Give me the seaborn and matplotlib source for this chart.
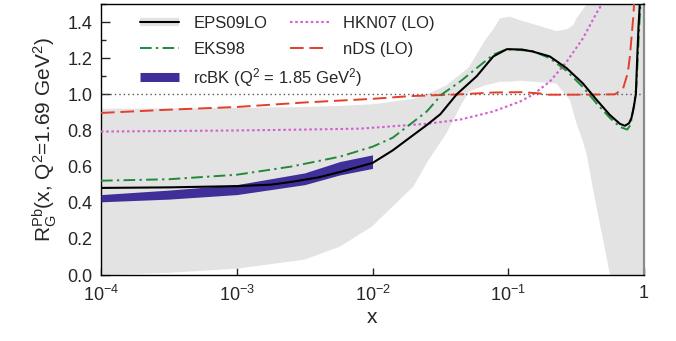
import matplotlib
matplotlib.use("Agg")
import matplotlib.pyplot as plt
import seaborn as sns
from matplotlib.lines import Line2D
from matplotlib.patches import Patch

# ---------------- data ----------------
eps09_x = [1e-4, 3.16e-4, 1e-3, 1.78e-3, 2.51e-3, 3.98e-3, 5.75e-3, 0.01, 0.0141, 0.0188, 0.0251,
           0.0316, 0.0417, 0.0585, 0.0776, 0.0977, 0.126, 0.151, 0.202, 0.269, 0.355,
           0.447, 0.560, 0.664, 0.723, 0.776, 0.809, 0.841, 0.871, 0.891, 0.912, 0.931, 0.955]
eps09_y = [0.482, 0.485, 0.492, 0.50, 0.515, 0.54, 0.57, 0.62, 0.69, 0.76, 0.83,
           0.89, 1.0, 1.10, 1.21, 1.25, 1.248, 1.237, 1.21, 1.145, 1.06,
           0.97, 0.886, 0.837, 0.826, 0.84, 0.87, 0.93, 1.0, 1.2, 1.38, 1.5, 1.8]

eks98_x = [1e-4, 3.16e-4, 1e-3, 2.51e-3, 5.75e-3, 0.01, 0.0141, 0.0251, 0.0324, 0.0441,
           0.0585, 0.0776, 0.0977, 0.151, 0.202, 0.269, 0.355, 0.447, 0.560, 0.664,
           0.752, 0.794, 0.841, 0.88, 0.912, 0.942, 0.97]
eks98_y = [0.522, 0.53, 0.555, 0.60, 0.655, 0.71, 0.76, 0.905, 1.0, 1.07,
           1.145, 1.22, 1.25, 1.24, 1.20, 1.13, 1.04, 0.95, 0.87, 0.82,
           0.805, 0.83, 0.93, 1.05, 1.3, 1.5, 1.8]

hkn07_x = [1e-4, 1e-3, 3.16e-3, 8.1e-3, 0.0251, 0.0441, 0.0776, 0.122, 0.151, 0.202,
           0.269, 0.355, 0.447, 0.490, 0.562]
hkn07_y = [0.794, 0.80, 0.805, 0.81, 0.837, 0.86, 0.905, 0.96, 0.997, 1.07,
           1.18, 1.31, 1.45, 1.5, 1.6]

nds_x = [1e-4, 3.16e-4, 1e-3, 3.16e-3, 0.01, 0.0188, 0.0441, 0.0776, 0.126, 0.170,
         0.191, 0.316, 0.61, 0.70, 0.76, 0.787, 0.832, 0.845, 0.871]
nds_y = [0.897, 0.915, 0.93, 0.955, 0.975, 0.99, 1.0, 1.01, 1.012, 1.005,
         0.998, 0.998, 1.0, 1.03, 1.12, 1.21, 1.42, 1.5, 1.8]

rcbk_x = [1e-4, 3.16e-4, 1e-3, 3.16e-3, 5.75e-3, 0.01]
rcbk_lo = [0.405, 0.42, 0.445, 0.50, 0.554, 0.59]
rcbk_hi = [0.445, 0.47, 0.50, 0.565, 0.628, 0.665]

band_x = [1e-4, 3.16e-4, 1e-3, 3.16e-3, 5.75e-3, 0.01, 0.0113, 0.020, 0.0251, 0.0351,
          0.0441, 0.0513, 0.0676, 0.0776, 0.0867, 0.103, 0.122, 0.151, 0.226, 0.269,
          0.284, 0.302, 0.318, 0.355, 0.380, 0.422, 0.501, 0.562, 0.708, 1.0]
band_lo = [0.0, 0.012, 0.035, 0.085, 0.157, 0.27, 0.31, 0.49, 0.62, 0.785,
           0.93, 1.015, 1.05, 1.06, 1.07, 1.07, 1.075, 1.07, 1.06, 0.99,
           0.97, 0.9, 0.84, 0.74, 0.66, 0.47, 0.19, 0.0, -0.4, -0.5]
band_hi = [0.92, 0.922, 0.925, 0.93, 0.936, 0.945, 0.95, 0.975, 1.0, 1.05,
           1.11, 1.15, 1.30, 1.36, 1.42, 1.43, 1.41, 1.39, 1.35, 1.36,
           1.37, 1.385, 1.42, 1.47, 1.5, 1.6, 1.8, 2.0, 2.0, 2.0]

xticks = [1e-4, 1e-3, 1e-2, 1e-1, 1]
xticklabels = [r"$10^{-4}$", r"$10^{-3}$", r"$10^{-2}$", r"$10^{-1}$", "1"]
yticks = [0.0, 0.2, 0.4, 0.6, 0.8, 1.0, 1.2, 1.4]
yticklabels = ["0.0", "0.2", "0.4", "0.6", "0.8", "1.0", "1.2", "1.4"]

# ---------------- style ----------------
sns.set_theme(style="white")
plt.rcParams["font.family"] = ["Liberation Sans", "DejaVu Sans"]
plt.rcParams["mathtext.fontset"] = "custom"
plt.rcParams["mathtext.rm"] = "Liberation Sans"
plt.rcParams["mathtext.it"] = "Liberation Sans"
plt.rcParams["mathtext.bf"] = "Liberation Sans:bold"

GRAY = "#e3e3e3"
GREEN = "#23893a"
RED = "#e23f2c"
PINK = "#d35fd0"
BLUE = "#3f2f98"

fig = plt.figure(figsize=(6.76, 3.41), dpi=100)
ax = fig.add_axes([101 / 676, 1 - 275 / 341, 543 / 676, 271 / 341])
ax.set_xscale("log")

ax.fill_between(band_x, band_lo, band_hi, color=GRAY, linewidth=0, zorder=1)
ax.axhline(1.0, color="#555555", lw=1.0, linestyle=(0, (1, 2.2)), zorder=2)
ax.fill_between(rcbk_x, rcbk_lo, rcbk_hi, color=BLUE, linewidth=0, zorder=3)

sns.lineplot(x=hkn07_x, y=hkn07_y, ax=ax, color=PINK, lw=1.5,
             linestyle=(0, (1.2, 1.3)), errorbar=None, sort=False, zorder=4)
sns.lineplot(x=nds_x, y=nds_y, ax=ax, color=RED, lw=1.4,
             linestyle=(0, (7, 3)), errorbar=None, sort=False, zorder=4)
sns.lineplot(x=eks98_x, y=eks98_y, ax=ax, color=GREEN, lw=1.4,
             linestyle=(0, (6, 2.2, 1.2, 2.2)), errorbar=None, sort=False, zorder=5)
sns.lineplot(x=eps09_x, y=eps09_y, ax=ax, color="black", lw=1.5,
             errorbar=None, sort=False, zorder=6)

ax.set_xlim(1e-4, 1)
ax.set_ylim(0, 1.5)
ax.set_xticks(xticks)
ax.set_xticklabels(xticklabels, fontsize=13)
ax.xaxis.set_minor_locator(matplotlib.ticker.NullLocator())
ax.set_yticks(yticks)
ax.set_yticklabels(yticklabels, fontsize=13)
ax.yaxis.set_minor_locator(matplotlib.ticker.MultipleLocator(0.1))
ax.tick_params(axis="y", which="major", direction="in", length=6.5, width=1.0,
               left=True, right=False, pad=6)
ax.tick_params(axis="y", which="minor", direction="in", length=3.5, width=1.0,
               left=True, right=False)
ax.tick_params(axis="x", which="major", direction="in", length=5, width=1.0,
               bottom=True, top=False, pad=7)

for s in ["left", "bottom", "top"]:
    ax.spines[s].set_color("black")
    ax.spines[s].set_linewidth(1.0)
ax.spines["right"].set_color("#8a8a8a")
ax.spines["right"].set_linewidth(1.6)

ax.set_xlabel("x", fontsize=15, labelpad=2)
ax.set_ylabel(r"R$_\mathrm{G}^\mathrm{Pb}$(x, Q$^2$=1.69 GeV$^2$)", fontsize=15, labelpad=6)

# ---------------- legends ----------------
h_eps = (Line2D([], [], color=GRAY, lw=6, solid_capstyle="butt"),
         Line2D([], [], color="black", lw=1.5))
h_eks = Line2D([], [], color=GREEN, lw=1.4, linestyle=(0, (6, 2.2, 1.2, 2.2)))
h_hkn = Line2D([], [], color=PINK, lw=1.5, linestyle=(0, (1.2, 1.3)))
h_nds = Line2D([], [], color=RED, lw=1.4, linestyle=(0, (7, 3)))
h_rc = Line2D([], [], color=BLUE, lw=6.5, solid_capstyle="butt")

leg1 = ax.legend([h_eps, h_eks, h_hkn, h_nds],
                 ["EPS09LO", "EKS98", "HKN07 (LO)", "nDS (LO)"],
                 ncol=2, loc="upper left", bbox_to_anchor=(0.072, 0.955),
                 frameon=False, fontsize=12, borderpad=0, borderaxespad=0,
                 handlelength=2.35, handletextpad=0.85, columnspacing=1.35,
                 labelspacing=0.62)
ax.add_artist(leg1)
ax.legend([h_rc], [r"rcBK (Q$^2$ = 1.85 GeV$^2$)"], loc="upper left",
          bbox_to_anchor=(0.072, 0.772), frameon=False, fontsize=12, borderpad=0,
          borderaxespad=0, handlelength=2.35, handletextpad=0.85)

fig.savefig("out.png", dpi=100)
